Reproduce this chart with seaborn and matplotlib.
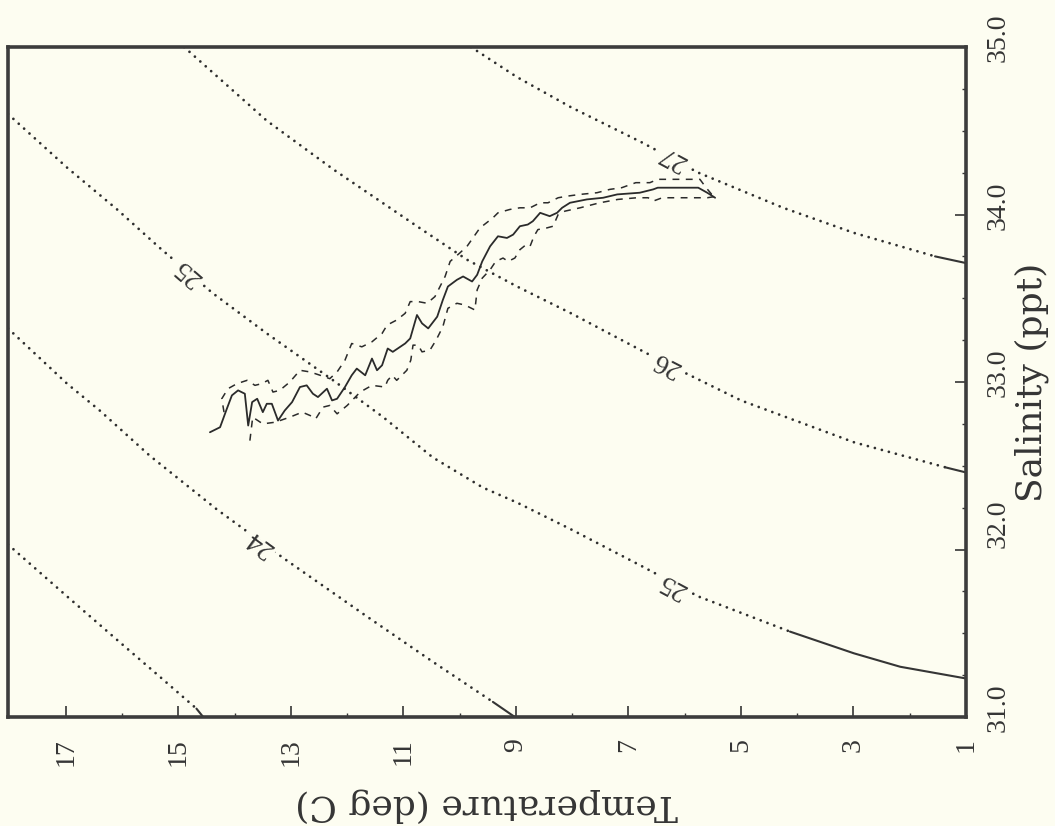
import numpy as np
import matplotlib
matplotlib.use('Agg')
import matplotlib.pyplot as plt
import matplotlib.transforms as mtransforms
from matplotlib.ticker import FormatStrFormatter
import seaborn as sns

# sigma-t isopycnals, as (temperature, salinity)
iso23_T = [18.03, 16.98, 16.09, 15.33, 14.68]
iso23_S = [32.03, 31.72, 31.46, 31.24, 31.05]
iso23_tail_T = [14.68, 14.56]
iso23_tail_S = [31.05, 31.00]

iso24_T = [18.03, 16.98, 16.40, 15.51, 14.32, 13.14, 11.65, 10.48, 9.41]
iso24_S = [33.32, 32.99, 32.83, 32.56, 32.24, 31.95, 31.60, 31.33, 31.09]
iso24_tail_T = [9.41, 9.02]
iso24_tail_S = [31.09, 31.00]

iso25_T = [18.03, 16.98, 16.09, 15.33, 14.39, 13.43, 12.25, 11.36, 10.48, 9.59,
           8.98, 8.02, 6.76, 5.76, 4.13]
iso25_S = [34.60, 34.28, 34.03, 33.80, 33.53, 33.29, 33.01, 32.79, 32.55, 32.37,
           32.28, 32.12, 31.90, 31.72, 31.51]
iso25_tail_T = [4.13, 2.99, 2.17, 1.00]
iso25_tail_S = [31.51, 31.38, 31.30, 31.23]

iso26_T = [14.90, 13.43, 12.25, 10.76, 9.87, 8.98, 8.02, 6.33, 5.00, 2.99, 1.36]
iso26_S = [35.00, 34.56, 34.27, 33.93, 33.73, 33.57, 33.41, 33.11, 32.89, 32.64, 32.49]
iso26_tail_T = [1.36, 1.00]
iso26_tail_S = [32.49, 32.46]

iso27_T = [9.80, 8.98, 8.02, 6.76, 5.76, 4.25, 2.99, 1.55]
iso27_S = [35.00, 34.82, 34.64, 34.43, 34.25, 34.04, 33.89, 33.75]
iso27_tail_T = [1.55, 1.00]
iso27_tail_S = [33.75, 33.71]

# contour labels
label_text = ['27', '26', '25', '25', '24']
label_T = [6.21, 6.33, 14.83, 6.21, 13.55]
label_S = [34.34, 33.11, 33.66, 31.79, 32.04]

# mean T-S profile
mean_T = [14.44, 14.26, 14.14, 14.05, 13.94, 13.82, 13.76, 13.69, 13.60, 13.50,
          13.43, 13.34, 13.23, 13.11, 12.98, 12.84, 12.72, 12.61, 12.52, 12.36,
          12.27, 12.18, 12.04, 11.92, 11.83, 11.68, 11.56, 11.47, 11.38, 11.28,
          11.19, 10.97, 10.88, 10.76, 10.67, 10.56, 10.40, 10.30, 10.21, 10.05,
          9.94, 9.78, 9.69, 9.60, 9.46, 9.32, 9.16, 9.05, 8.93, 8.79,
          8.70, 8.57, 8.40, 8.27, 8.18, 8.04, 7.74, 7.45, 7.20, 6.80,
          6.56, 6.48, 6.21, 5.76, 5.60, 5.46]
mean_S = [32.70, 32.73, 32.84, 32.92, 32.95, 32.93, 32.74, 32.88, 32.90, 32.82,
          32.87, 32.87, 32.77, 32.83, 32.88, 32.97, 32.98, 32.93, 32.91, 32.96,
          32.89, 32.90, 32.97, 33.04, 33.08, 33.04, 33.14, 33.07, 33.10, 33.20,
          33.18, 33.23, 33.26, 33.40, 33.35, 33.32, 33.39, 33.49, 33.57, 33.61,
          33.63, 33.60, 33.64, 33.72, 33.81, 33.87, 33.86, 33.88, 33.93, 33.94,
          33.96, 34.01, 33.99, 34.01, 34.04, 34.07, 34.09, 34.10, 34.12, 34.13,
          34.15, 34.16, 34.16, 34.16, 34.13, 34.10]

# mean + one std (salty side)
upper_T = [14.19, 14.23, 14.12, 13.96, 13.78, 13.64, 13.52, 13.41, 13.32, 13.20,
           13.02, 12.84, 12.66, 12.48, 12.31, 12.18, 12.04, 11.92, 11.74, 11.56,
           11.38, 11.29, 11.12, 10.97, 10.88, 10.74, 10.58, 10.44, 10.35, 10.26,
           10.17, 10.00, 9.87, 9.64, 9.41, 9.32, 9.11, 8.93, 8.75, 8.57,
           8.43, 8.25, 8.08, 7.86, 7.56, 7.33, 7.12, 6.87, 6.62, 6.48,
           6.30, 6.08, 5.87, 5.73, 5.62, 5.52, 5.41]
upper_S = [32.82, 32.90, 32.96, 32.99, 33.01, 32.98, 32.99, 33.01, 32.94, 32.95,
           33.00, 33.07, 33.06, 33.04, 33.02, 33.06, 33.13, 33.23, 33.21, 33.24,
           33.29, 33.34, 33.37, 33.41, 33.48, 33.48, 33.47, 33.51, 33.57, 33.63,
           33.72, 33.77, 33.81, 33.92, 33.98, 34.01, 34.03, 34.04, 34.04, 34.07,
           34.07, 34.10, 34.11, 34.12, 34.13, 34.15, 34.16, 34.19, 34.19, 34.21,
           34.21, 34.21, 34.21, 34.21, 34.16, 34.12, 34.11]

# mean - one std (fresh side)
lower_T = [13.73, 13.68, 13.50, 13.28, 13.02, 12.80, 12.66, 12.56, 12.43, 12.31,
           12.18, 12.00, 11.77, 11.56, 11.33, 11.28, 11.20, 11.12, 10.94, 10.87,
           10.83, 10.74, 10.67, 10.53, 10.42, 10.30, 10.21, 10.05, 9.91, 9.73,
           9.69, 9.60, 9.46, 9.36, 9.23, 9.14, 9.02, 8.93, 8.82, 8.75,
           8.68, 8.61, 8.45, 8.34, 8.25, 8.13, 7.86, 7.51, 7.19, 6.85,
           6.65, 6.56, 6.40, 5.96, 5.60, 5.41]
lower_S = [32.65, 32.79, 32.75, 32.76, 32.79, 32.82, 32.80, 32.78, 32.85, 32.86,
           32.81, 32.86, 32.94, 32.98, 32.97, 33.01, 33.04, 33.01, 33.07, 33.13,
           33.22, 33.22, 33.18, 33.19, 33.25, 33.33, 33.44, 33.47, 33.46, 33.43,
           33.55, 33.62, 33.67, 33.72, 33.74, 33.72, 33.74, 33.79, 33.82, 33.81,
           33.87, 33.91, 33.92, 33.93, 34.00, 34.02, 34.04, 34.07, 34.09, 34.10,
           34.10, 34.08, 34.10, 34.10, 34.10, 34.11]

bg = '#fdfdf1'
ink = '#353535'

sns.set_theme(style='white')
plt.rcParams['font.family'] = ['Liberation Serif', 'DejaVu Serif']

fig = plt.figure(figsize=(10.55, 8.26), dpi=100)
fig.patch.set_facecolor(bg)
ax = fig.add_axes([8 / 1055, 1 - 717 / 826, 958 / 1055, 670 / 826])
ax.set_facecolor(bg)

dotted = (0, (0.01, 2.6))
isolines = [
    (iso23_T, iso23_S, iso23_tail_T, iso23_tail_S),
    (iso24_T, iso24_S, iso24_tail_T, iso24_tail_S),
    (iso25_T, iso25_S, iso25_tail_T, iso25_tail_S),
    (iso26_T, iso26_S, iso26_tail_T, iso26_tail_S),
    (iso27_T, iso27_S, iso27_tail_T, iso27_tail_S),
]
for t, s, tt, ts in isolines:
    sns.lineplot(x=t, y=s, sort=False, estimator=None, ax=ax, color='#2e2e2e',
                 linewidth=2.0, linestyle=dotted, dash_capstyle='round')
    sns.lineplot(x=tt, y=ts, sort=False, estimator=None, ax=ax, color=ink,
                 linewidth=1.5)

# T-S profile: mean and +/- std
sns.lineplot(x=mean_T, y=mean_S, sort=False, estimator=None, ax=ax,
             color='#2b2b2b', linewidth=1.3, zorder=4)
for t, s in [(upper_T, upper_S), (lower_T, lower_S)]:
    sns.lineplot(x=t, y=s, sort=False, estimator=None, ax=ax,
                 color='#2b2b2b', linewidth=1.1, linestyle=(0, (4.5, 4.2)), zorder=4)

ax.set_xlim(18.03, 1.0)
ax.set_ylim(31.0, 35.0)

# contour labels, upside down along the line as in the rotated original
label_lines = [(iso27_T, iso27_S), (iso26_T, iso26_S), (iso25_T, iso25_S),
               (iso25_T, iso25_S), (iso24_T, iso24_S)]
for txt, t0, s0, (lt, ls) in zip(label_text, label_T, label_S, label_lines):
    tr = np.array(lt[::-1])
    sr = np.array(ls[::-1])
    p1 = ax.transData.transform((t0 + 0.3, np.interp(t0 + 0.3, tr, sr)))
    p2 = ax.transData.transform((t0 - 0.3, np.interp(t0 - 0.3, tr, sr)))
    ang = np.degrees(np.arctan2(p2[1] - p1[1], p2[0] - p1[0])) + 180
    ax.text(t0, s0, txt, rotation=ang, rotation_mode='anchor', ha='center',
            va='center', fontsize=20, color=ink, zorder=3,
            bbox=dict(boxstyle='square,pad=0.15', fc=bg, ec='none'))

ax.set_xticks(np.arange(1, 18, 2))
ax.set_xticks(np.arange(2, 18, 2), minor=True)
ax.set_yticks(np.arange(31, 35.01, 1.0))
ax.set_yticks(np.arange(31, 35.01, 0.25), minor=True)
ax.yaxis.set_major_formatter(FormatStrFormatter('%.1f'))
ax.yaxis.tick_right()
ax.yaxis.set_label_position('right')

ax.tick_params(axis='both', which='both', direction='in', color=ink,
               labelcolor=ink, labelsize=20)
ax.tick_params(axis='both', which='major', length=8, width=1.2)
ax.tick_params(axis='both', which='minor', length=3, width=1.0)
ax.tick_params(axis='x', which='both', top=False, bottom=True, pad=15, labelrotation=90)
ax.tick_params(axis='y', which='both', left=False, right=True, pad=14, labelrotation=90)

# the salinity labels sit a little above their ticks, the lowest one kept inside the frame
for tick in ax.yaxis.get_major_ticks():
    lab = tick.label2
    lab.set_va('center')
    shift = 26 if abs(tick.get_loc() - 31.0) < 1e-6 else 9
    lab.set_transform(lab.get_transform() +
                      mtransforms.ScaledTranslation(0, shift / 100, fig.dpi_scale_trans))

ax.set_xlabel('Temperature (deg C)', rotation=180, fontsize=26,
              family='DejaVu Serif', color=ink, labelpad=16)
ax.set_ylabel('Salinity (ppt)', rotation=90, fontsize=26,
              family='DejaVu Serif', color=ink, labelpad=3)

for sp in ax.spines.values():
    sp.set_linewidth(2.6)
    sp.set_color('#3c3c3c')

fig.savefig('out.png', dpi=100, facecolor=bg)
